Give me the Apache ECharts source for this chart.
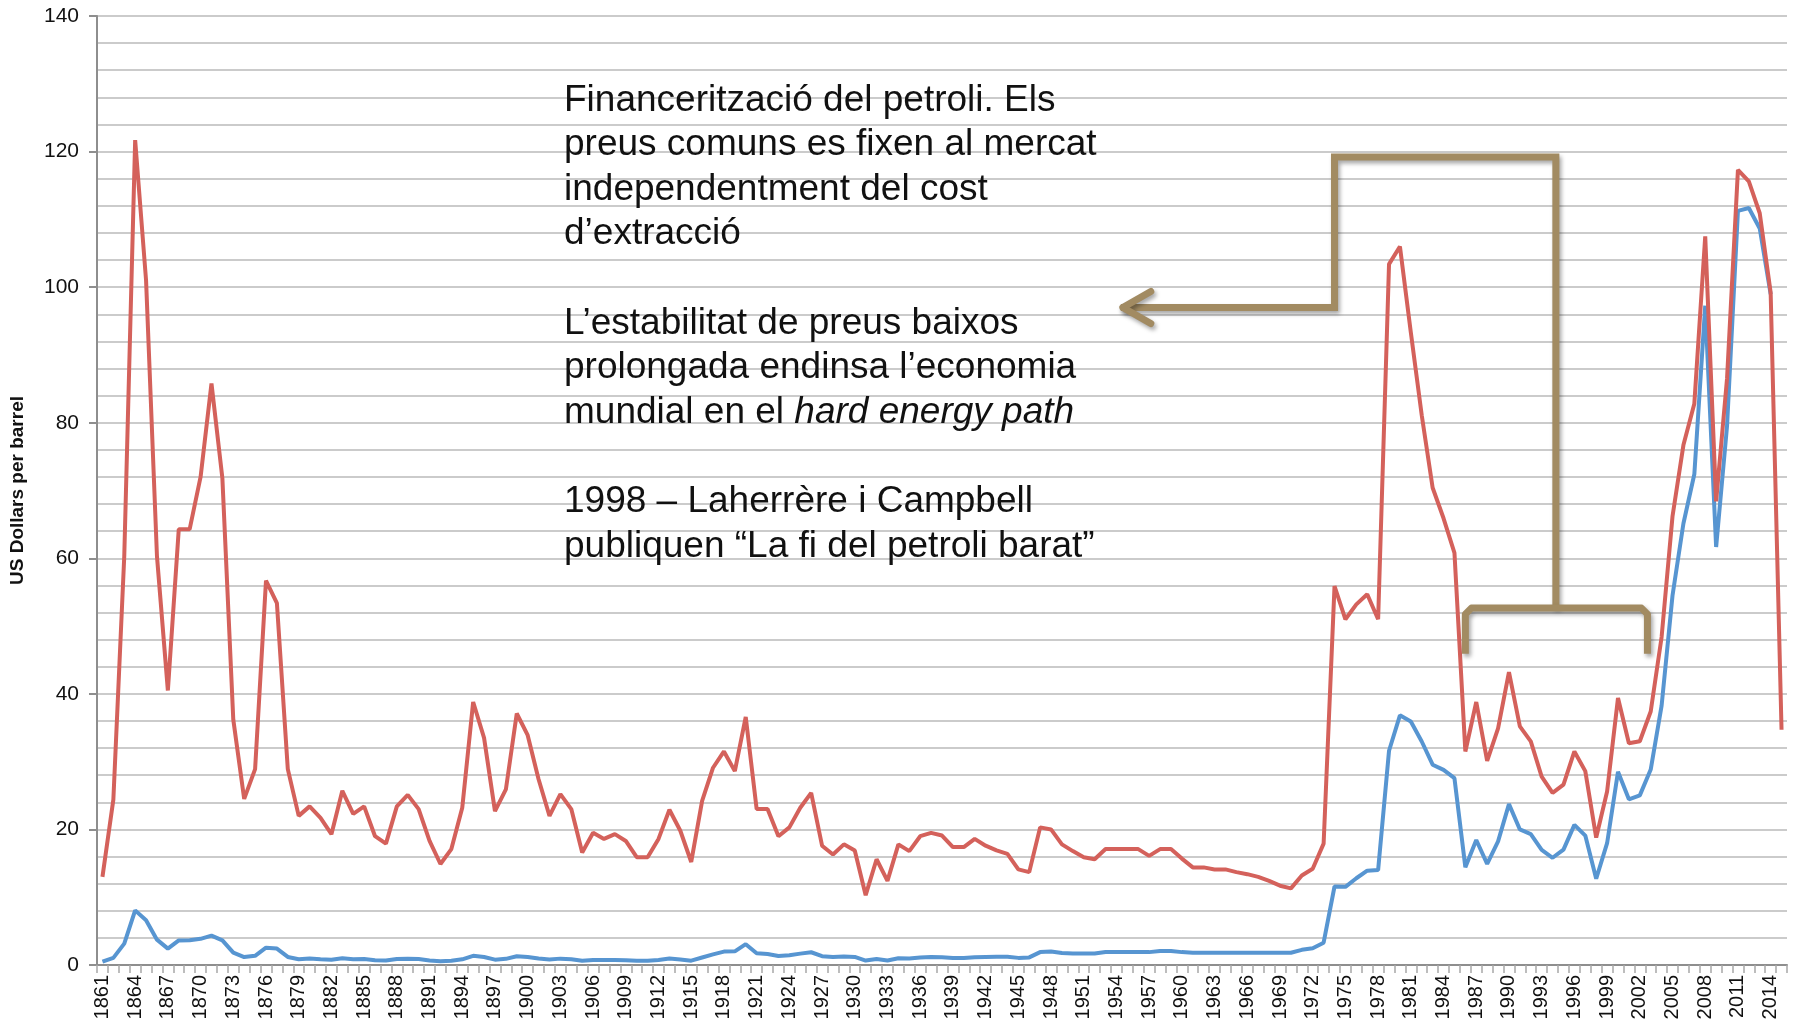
<!DOCTYPE html>
<html>
<head>
<meta charset="utf-8">
<title>Oil price 1861-2015</title>
<script src="https://cdn.jsdelivr.net/npm/echarts@6/dist/echarts.min.js"></script>
<style>
  html, body { margin: 0; padding: 0; background: #fff; }
  #chart { width: 1800px; height: 1029px; }
</style>
</head>
<body>
<div id="chart"></div>
<script>
// years 1861..2015
const years = [];
for (let y = 1861; y <= 2015; y++) years.push(String(y));

// price in 2014 dollars (red)
const realPrice = [
  13.0, 24.4, 60.3, 121.7, 101.0, 60.3, 40.5, 64.3, 64.3, 72.0,   // 1861-1870
  85.8, 71.8, 36.2, 24.5, 28.9, 56.7, 53.4, 28.9, 22.0, 23.4,     // 1871-1880
  21.7, 19.3, 25.7, 22.3, 23.4, 19.0, 17.9, 23.4, 25.1, 23.0,     // 1881-1890
  18.3, 14.9, 17.1, 23.2, 38.8, 33.5, 22.7, 25.9, 37.1, 33.9,     // 1891-1900
  27.4, 22.0, 25.2, 23.0, 16.6, 19.5, 18.6, 19.3, 18.3, 15.9,     // 1901-1910
  15.9, 18.6, 22.9, 19.8, 15.2, 24.2, 29.1, 31.5, 28.6, 36.6,     // 1911-1920
  23.0, 23.0, 19.0, 20.3, 23.2, 25.4, 17.6, 16.3, 17.8, 16.9,     // 1921-1930
  10.3, 15.6, 12.4, 17.8, 16.8, 19.0, 19.5, 19.1, 17.4, 17.4,     // 1931-1940
  18.6, 17.6, 16.9, 16.4, 14.1, 13.7, 20.3, 20.0, 17.8, 16.8,     // 1941-1950
  15.9, 15.6, 17.1, 17.1, 17.1, 17.1, 16.1, 17.1, 17.1, 15.7,     // 1951-1960
  14.4, 14.4, 14.1, 14.1, 13.7, 13.4, 13.0, 12.4, 11.7, 11.3,     // 1961-1970
  13.2, 14.2, 17.9, 55.9, 51.0, 53.2, 54.7, 51.0, 103.4, 106.0,   // 1971-1980
  93.3, 81.1, 70.4, 65.9, 60.8, 31.5, 38.8, 30.1, 34.9, 43.2,     // 1981-1990
  35.2, 33.0, 27.8, 25.4, 26.6, 31.5, 28.6, 18.8, 25.6, 39.4,     // 1991-2000
  32.7, 33.0, 37.4, 48.4, 66.2, 76.7, 82.8, 107.5, 68.4, 86.5,    // 2001-2010
  117.3, 115.6, 110.9, 99.2, 34.7                                 // 2011-2015
];

// price in money of the day (blue)
const nominalPrice = [
  0.49, 1.05, 3.15, 8.06, 6.59, 3.74, 2.41, 3.63, 3.64, 3.86,
  4.34, 3.64, 1.83, 1.17, 1.35, 2.56, 2.42, 1.19, 0.86, 0.95,
  0.86, 0.78, 1.00, 0.84, 0.88, 0.71, 0.67, 0.88, 0.94, 0.87,
  0.67, 0.56, 0.64, 0.84, 1.36, 1.18, 0.79, 0.91, 1.29, 1.19,
  0.96, 0.80, 0.94, 0.86, 0.62, 0.73, 0.72, 0.72, 0.70, 0.61,
  0.61, 0.74, 0.95, 0.81, 0.64, 1.10, 1.56, 1.98, 2.01, 3.07,
  1.73, 1.61, 1.34, 1.43, 1.68, 1.88, 1.30, 1.17, 1.27, 1.19,
  0.65, 0.87, 0.67, 1.00, 0.97, 1.09, 1.18, 1.13, 1.02, 1.02,
  1.14, 1.19, 1.20, 1.21, 1.05, 1.12, 1.90, 1.99, 1.78, 1.71,
  1.71, 1.71, 1.93, 1.93, 1.93, 1.93, 1.90, 2.08, 2.08, 1.90,
  1.80, 1.80, 1.80, 1.80, 1.80, 1.80, 1.80, 1.80, 1.80, 1.80,
  2.24, 2.48, 3.29, 11.58, 11.53, 12.80, 13.92, 14.02, 31.61, 36.83,
  35.93, 32.97, 29.55, 28.78, 27.56, 14.43, 18.44, 14.92, 18.23, 23.73,
  20.00, 19.32, 16.97, 15.82, 17.02, 20.67, 19.09, 12.72, 17.97, 28.50,
  24.44, 25.02, 28.83, 38.27, 54.52, 65.14, 72.39, 97.26, 61.67, 79.50,
  111.26, 111.67, 108.66, 98.95, null
];

const yTitle = 'US Dollars per barrel';
const noteText =
  'Financerització del petroli. Els\n' +
  'preus comuns es fixen al mercat\n' +
  'independentment del cost\n' +
  'd’extracció\n' +
  '\n' +
  'L’estabilitat de preus baixos\n' +
  'prolongada endinsa l’economia\n' +
  'mundial en el {i|hard energy path}\n' +
  '\n' +
  '1998 – Laherrère i Campbell\n' +
  'publiquen “La fi del petroli barat”';

const chart = echarts.init(document.getElementById('chart'));

const option = {
  animation: false,
  backgroundColor: '#fff',
  grid: { left: 97, right: 13, top: 16, bottom: 64 },
  xAxis: {
    type: 'category',
    data: years,
    boundaryGap: true,
    axisLine: { lineStyle: { color: '#8e8e8e', width: 2 } },
    axisTick: { show: true, interval: 0, length: 8, lineStyle: { color: '#a8a8a8', width: 1.5 } },
    axisLabel: {
      interval: 2,
      rotate: 90,
      margin: 10,
      color: '#111',
      fontSize: 20,
      fontFamily: 'Liberation Sans'
    },
    splitLine: { show: false }
  },
  yAxis: {
    type: 'value',
    min: 0,
    max: 140,
    interval: 20,
    name: yTitle,
    nameLocation: 'middle',
    nameGap: 70,
    nameTextStyle: { fontSize: 19, fontWeight: 'bold', color: '#111', fontFamily: 'Liberation Sans' },
    axisLine: { show: true, lineStyle: { color: '#8e8e8e', width: 2 } },
    axisTick: { show: true, length: 8, lineStyle: { color: '#8e8e8e', width: 2 } },
    axisLabel: { color: '#111', fontSize: 21, margin: 18, fontFamily: 'Liberation Sans' },
    splitLine: { show: true, lineStyle: { color: '#cbcbcb', width: 2 } },
    minorTick: { show: false, splitNumber: 5 },
    minorSplitLine: { show: true, lineStyle: { color: '#cbcbcb', width: 2 } }
  },
  series: [
    {
      name: 'nominal',
      type: 'line',
      data: nominalPrice,
      showSymbol: false,
      lineStyle: { color: '#5795d1', width: 4 },
      z: 3
    },
    {
      name: 'real',
      type: 'line',
      data: realPrice,
      showSymbol: false,
      lineStyle: { color: '#d4615b', width: 4 },
      z: 4
    }
  ]
};

chart.setOption(option);

// annotation arrows placed in data space (year, value)
const x0 = chart.convertToPixel({ gridIndex: 0 }, [0, 0]);
const x1 = chart.convertToPixel({ gridIndex: 0 }, [1, 0]);
const band = x1[0] - x0[0];
function pt(year, val) {
  const p = chart.convertToPixel({ gridIndex: 0 }, [0, val]);
  return [x0[0] + band * (year - 1861), p[1]];
}

const brown = '#a28b62';
const shadow = { shadowBlur: 4, shadowOffsetX: 2, shadowOffsetY: 3, shadowColor: 'rgba(0,0,0,0.35)' };
const lineStyleBase = Object.assign({ stroke: brown, lineWidth: 7, fill: null, lineJoin: 'miter', lineCap: 'butt' }, shadow);

const tip = pt(1954.4, 97.0);
const elbow = [tip, pt(1974.0, 97.0), pt(1974.0, 119.2), pt(1994.3, 119.2), pt(1994.3, 52.65)];
const head = [[tip[0] + 30, tip[1] - 16], [tip[0] + 2, tip[1]], [tip[0] + 30, tip[1] + 16]];
const bl = pt(1986.0, 45.9), br = pt(2002.7, 45.9);
const bTopL = pt(1986.0, 52.65), bTopR = pt(2002.7, 52.65);
const bracket = [bl, [bTopL[0], bTopL[1] + 6], [bTopL[0] + 6, bTopL[1]], [bTopR[0] - 6, bTopR[1]], [bTopR[0], bTopR[1] + 6], br];

chart.setOption({
  graphic: [
    { type: 'polyline', shape: { points: elbow }, style: lineStyleBase, z: 10 },
    { type: 'polyline', shape: { points: head }, style: Object.assign({}, lineStyleBase, { lineCap: 'round', lineJoin: 'round' }), z: 10 },
    { type: 'polyline', shape: { points: bracket }, style: Object.assign({}, lineStyleBase, { lineJoin: 'round' }), z: 10 },
    {
      type: 'text',
      left: 564,
      top: 78,
      z: 12,
      style: {
        text: noteText,
        fill: '#111',
        fontSize: 37,
        fontFamily: 'Liberation Sans',
        lineHeight: 44.6,
        rich: {
          i: { fontStyle: 'italic', fontSize: 37, fontFamily: 'Liberation Sans', lineHeight: 44.6, fill: '#111' }
        }
      }
    }
  ]
});

window.addEventListener('resize', () => chart.resize());
</script>
</body>
</html>
